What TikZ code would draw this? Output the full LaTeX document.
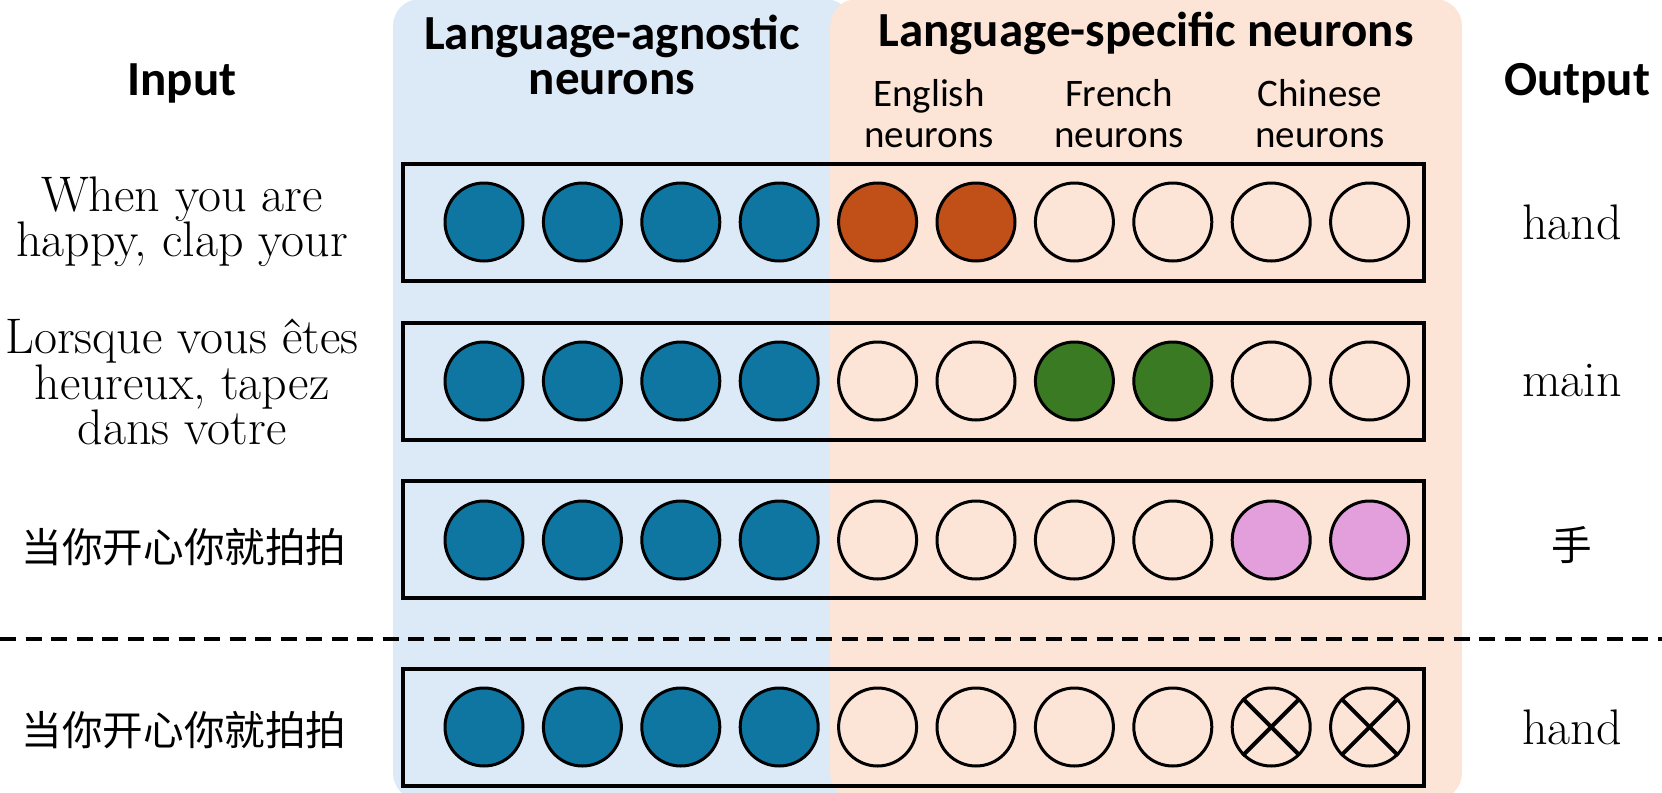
\documentclass[tikz,border=0pt]{standalone}
\usepackage{fontspec}
\newfontfamily\calfont{Carlito}
\newfontfamily\cjk{Noto Sans CJK SC}
\definecolor{nblue}{HTML}{0E76A0}
\definecolor{norange}{HTML}{C05018}
\definecolor{ngreen}{HTML}{3A7A22}
\definecolor{npink}{HTML}{E39FDB}
\definecolor{bgblue}{HTML}{DCE9F6}
\definecolor{bgpink}{HTML}{FCE4D6}
\tikzset{
  head/.style={font=\calfont\bfseries\fontsize{24.5}{22.5}\selectfont, align=center, inner sep=0pt},
  sub/.style={font=\calfont\fontsize{19.5}{20.5}\selectfont, align=center, inner sep=0pt},
  intext/.style={font=\fontsize{25}{22.6}\selectfont, align=center, inner sep=0pt},
  cjktext/.style={font=\cjk\fontsize{20.3}{22}\selectfont, inner sep=0pt},
  rowbox/.style={draw, line width=2pt, minimum width=510.5pt, minimum height=58.5pt, inner sep=0pt},
  neuron/.style={draw, circle, line width=1.5pt, minimum size=39pt, inner sep=0pt},
  crossline/.style={line width=2pt},
}
\begin{document}
\begin{tikzpicture}[x=0.5pt,y=-0.5pt]
\useasboundingbox (0,0) rectangle (1662,793);
% panels
\fill[bgblue, rounded corners=13.5pt] (393,-1) rectangle (852,800);
\fill[bgpink, rounded corners=13.5pt] (830,-1) rectangle (1462,800);
% headings
\node[head] (hin) at (182,83) {Input};
\node[head] (hout) at (1577,83) {Output};
\node[head] (hagn) at (612,55) {Language-agnostic\\neurons};
\node[head] (hspec) at (1146,33) {Language-specific neurons};
\node[sub] (hen) at (929,114) {English\\neurons};
\node[sub] (hfr) at (1119,114) {French\\neurons};
\node[sub] (hzh) at (1320,114) {Chinese\\neurons};
% row boxes
\node[rowbox] (b1) at (913.5,222.5) {};
\node[rowbox] (b2) at (913.5,381.5) {};
\node[rowbox] (b3) at (913.5,539.5) {};
\node[rowbox] (b4) at (913.5,727.5) {};
% neurons
\foreach \r/\y/\cols in {
  1/222/{nblue,nblue,nblue,nblue,norange,norange,none,none,none,none},
  2/381/{nblue,nblue,nblue,nblue,none,none,ngreen,ngreen,none,none},
  3/540/{nblue,nblue,nblue,nblue,none,none,none,none,npink,npink},
  4/727/{nblue,nblue,nblue,nblue,none,none,none,none,none,none}}{
  \foreach \c [count=\i from 0] in \cols {
    \node[neuron, fill=\c] (n\r-\i) at ({484+98.4*\i},\y) {};
  }
}
\foreach \i in {8,9}{
  \draw[crossline] (n4-\i.135) -- (n4-\i.-45);
  \draw[crossline] (n4-\i.45) -- (n4-\i.-135);
}
% inputs
\node[intext] (in1) at (182,222) {When you are\\happy, clap your};
\node[intext] (in2) at (182,382) {Lorsque vous êtes\\heureux, tapez\\dans votre};
\node[cjktext] (in3) at (184,547) {当你开心你就拍拍};
\node[cjktext] (in4) at (184,730) {当你开心你就拍拍};
% outputs
\node[intext] (o1) at (1572,222) {hand};
\node[intext] (o2) at (1572,381) {main};
\node[cjktext] (o3) at (1572,545) {手};
\node[intext] (o4) at (1572,727) {hand};
% dashed separator
\coordinate (dl) at (0,639);
\coordinate (dr) at (1662,639);
\draw[line width=1.6pt, dash pattern=on 8pt off 4.75pt] (dl) -- (dr);
\end{tikzpicture}
\end{document}
